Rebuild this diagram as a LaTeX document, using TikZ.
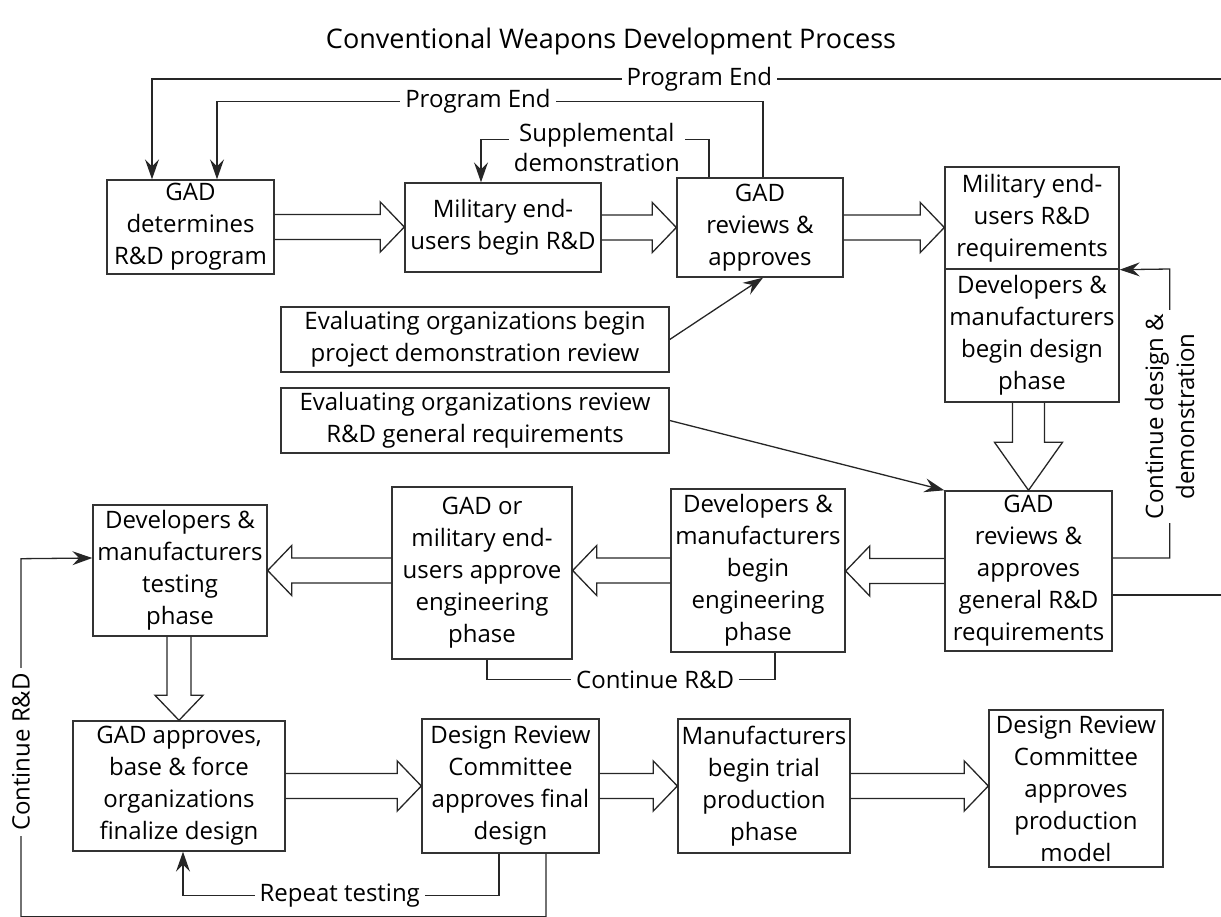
\documentclass[tikz,border=0pt]{standalone}
\usepackage{fontspec}
\setmainfont{Open Sans}
\usetikzlibrary{arrows.meta,calc}
\newcommand\hollowR[2]{\draw[harrow] let \p1=(#1), \p2=(#2) in (\x1,\y1+12.5pt) -- (\x2-24pt,\y1+12.5pt) -- (\x2-24pt,\y1+25pt) -- (\x2,\y1) -- (\x2-24pt,\y1-25pt) -- (\x2-24pt,\y1-12.5pt) -- (\x1,\y1-12.5pt);}
\newcommand\hollowL[2]{\draw[harrow] let \p1=(#1), \p2=(#2) in (\x1,\y1+12.5pt) -- (\x2+24pt,\y1+12.5pt) -- (\x2+24pt,\y1+25pt) -- (\x2,\y1) -- (\x2+24pt,\y1-25pt) -- (\x2+24pt,\y1-12.5pt) -- (\x1,\y1-12.5pt);}
\newcommand\hollowD[5]{\draw[harrow] let \p1=(#1), \p2=(#2) in (\x2-#3,\y1) -- (\x2-#3,\y2+#5) -- (\x2-#4,\y2+#5) -- (\x2,\y2) -- (\x2+#4,\y2+#5) -- (\x2+#3,\y2+#5) -- (\x2+#3,\y1);}
\begin{document}
\begin{tikzpicture}[x=1pt,y=-1pt,
  box/.style={draw=black!80, line width=1.4pt, align=center, inner sep=1pt, font=\fontsize{24}{32}\selectfont},
  conn/.style={draw=black!85, line width=1.3pt},
  arr/.style={conn, -{Stealth[length=20pt,width=14pt,inset=7pt]}},
  lbl/.style={fill=white, inner xsep=5pt, inner ysep=1pt, font=\fontsize{24}{30}\selectfont, align=center},
  harrow/.style={draw=black!85, line width=1.3pt, line join=miter}
]
\useasboundingbox (0,0) rectangle (1221,917);

\node[font=\fontsize{27}{30}\selectfont] (title) at (611,41) {Conventional Weapons Development Process};

% boxes
\node[box, minimum width=167pt, minimum height=94pt] (b1) at (190.5,227) {GAD\\determines\\R\&D program};
\node[box, minimum width=196pt, minimum height=89pt] (b2) at (503,227.5) {Military end-\\users begin R\&D};
\node[box, minimum width=166pt, minimum height=99pt] (b3) at (760,227.5) {GAD\\reviews \&\\approves};
\node[box, minimum width=174pt, minimum height=102pt] (b4) at (1032,218) {Military end-\\users R\&D\\requirements};
\node[box, minimum width=174pt, minimum height=133pt] (b5) at (1032,335.5) {Developers \&\\manufacturers\\begin design\\phase};
\node[box, minimum width=388pt, minimum height=65pt] (e1) at (475,339.5) {Evaluating organizations begin\\project demonstration review};
\node[box, minimum width=388pt, minimum height=65pt] (e2) at (475,420.5) {Evaluating organizations review\\R\&D general requirements};
\node[box, minimum width=167pt, minimum height=160pt] (b6) at (1028.5,571) {GAD\\reviews \&\\approves\\general R\&D\\requirements};
\node[box, minimum width=174pt, minimum height=163pt] (b8) at (758,570.5) {Developers \&\\manufacturers\\begin\\engineering\\phase};
\node[box, minimum width=180pt, minimum height=172pt] (b7) at (482,573) {GAD or\\military end-\\users approve\\engineering\\phase};
\node[box, minimum width=174pt, minimum height=131pt] (b9) at (180,570.5) {Developers \&\\manufacturers\\testing\\phase};
\node[box, minimum width=212pt, minimum height=130pt] (b10) at (179,786) {GAD approves,\\base \& force\\organizations\\finalize design};
\node[box, minimum width=177pt, minimum height=134pt] (b11) at (510.5,786) {Design Review\\Committee\\approves final\\design};
\node[box, minimum width=172pt, minimum height=134pt] (b12) at (764,786) {Manufacturers\\begin trial\\production\\phase};
\node[box, minimum width=174pt, minimum height=157pt] (b13) at (1076,788.5) {Design Review\\Committee\\approves\\production\\model};

% free ends at the right edge
\coordinate (re1) at (1221,79);
\coordinate (re2) at (1221,595);

% hollow arrows
\hollowR{b1.east}{b2.west}
\hollowR{b2.east}{b3.west}
\hollowR{b3.east}{b4.west |- b3.east}
\hollowD{b5.south}{b6.north}{16pt}{34pt}{48pt}
\hollowL{b6.west}{b8.east}
\hollowL{b8.west}{b7.east}
\hollowL{b7.west |- b8.west}{b9.east}
\hollowD{b9.south}{b10.north}{12pt}{24pt}{25pt}
\hollowR{b10.east}{b11.west}
\hollowR{b11.east}{b12.west}
\hollowR{b12.east}{b13.west |- b12.east}

% thin connectors
\draw[arr] (re1) -| node[lbl, pos=0.244] {Program End} ([xshift=-38.5pt]b1.north);
\draw[arr] ([xshift=3pt]b3.north) -- ++(0,-76) -| node[lbl, pos=0.261] {Program End} ([xshift=26.5pt]b1.north);
\draw[arr] ([xshift=-51pt]b3.north) -- ++(0,-38) -| node[lbl, pos=0.246, yshift=-8pt, inner ysep=0pt] {Supplemental\\demonstration} ([xshift=-22pt]b2.north);
\draw[arr] (e1.east) -- ([xshift=3pt]b3.south);
\draw[arr] (e2.east) -- (b6.north west);
\draw[arr] ([yshift=13pt]b6.east) -- ++(57,0) -- node[lbl, pos=0.49, rotate=90, inner xsep=4pt, inner ysep=0pt, font=\fontsize{24}{31}\selectfont] {Continue design \&\\demonstration} ++(0,-289) -- (b4.south east);
\draw[conn] ([yshift=-24pt]b6.east) -- (re2);
\draw[conn] ([xshift=5pt]b7.south) -- ++(0,20) -| node[lbl, pos=0.292] {Continue R\&D} ([xshift=17pt]b8.south);
\draw[arr] ([xshift=35.5pt]b11.south) -- ++(0,63) -- ++(-525,0) -- node[lbl, pos=0.46, rotate=90] {Continue R\&D} ++(0,-358) -- ([yshift=12.5pt]b9.west);
\draw[arr] ([xshift=-11.5pt]b11.south) -- ++(0,42) -| node[lbl, pos=0.252] {Repeat testing} ([xshift=4pt]b10.south);
\end{tikzpicture}
\end{document}
